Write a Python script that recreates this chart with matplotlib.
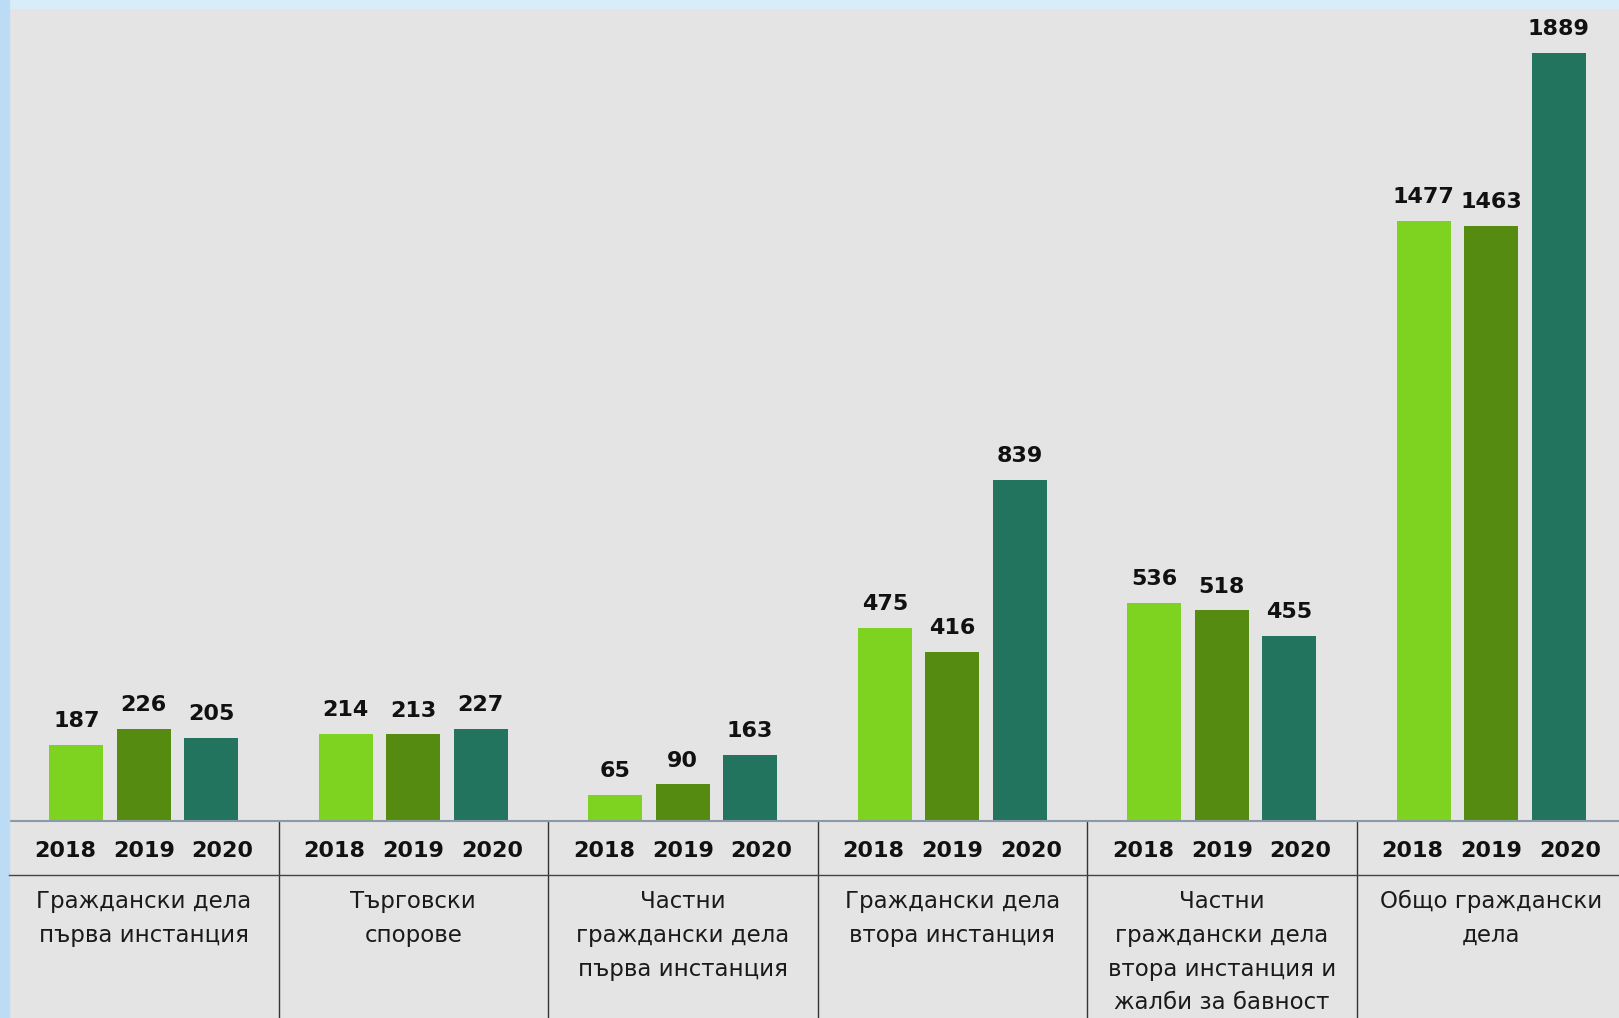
import numpy as np
import matplotlib
matplotlib.use("Agg")
import matplotlib.pyplot as plt
from matplotlib.patches import Rectangle
from matplotlib.transforms import blended_transform_factory

categories = [
    "Граждански дела\nпърва инстанция",
    "Търговски\nспорове",
    "Частни\nграждански дела\nпърва инстанция",
    "Граждански дела\nвтора инстанция",
    "Частни\nграждански дела\nвтора инстанция и\nжалби за бавност",
    "Общо граждански\nдела",
]
years = ["2018", "2019", "2020"]
v2018 = [187, 214, 65, 475, 536, 1477]
v2019 = [226, 213, 90, 416, 518, 1463]
v2020 = [205, 227, 163, 839, 455, 1889]
colors = ["#7ed321", "#568b12", "#23745e"]

W, H = 1619, 1018
fig = plt.figure(figsize=(W / 100, H / 100), dpi=100)
fig.patch.set_facecolor("#e4e4e4")

# light blue frame on top and left
fig.patches.append(Rectangle((0, 1 - 8 / H), 1, 8 / H, transform=fig.transFigure,
                             color="#d9ecf9", zorder=0))
fig.patches.append(Rectangle((0, 0), 9 / W, 1, transform=fig.transFigure,
                             color="#bcdcf5", zorder=0))

base_px = 821
ax = fig.add_axes([9 / W, (H - base_px) / H, 1617 / W, base_px / H])
ax.set_facecolor("none")
ax.set_xlim(0, 24)
ax.set_ylim(0, 1889 * base_px / 768)
for side in ["top", "left", "right"]:
    ax.spines[side].set_visible(False)
ax.spines["bottom"].set_color("#8a9aa8")
ax.spines["bottom"].set_linewidth(1.5)
ax.set_xticks([])
ax.set_yticks([])

n = len(categories)
series = [v2018, v2019, v2020]
for k, vals in enumerate(series):
    x = np.arange(n) * 4 + 1 + k
    bars = ax.bar(x, vals, width=0.8, color=colors[k], zorder=2)
    for b, v in zip(bars, vals):
        ax.annotate(str(v), (b.get_x() + b.get_width() / 2, v),
                    xytext=(0, 10), textcoords="offset points",
                    ha="center", va="bottom", fontsize=16,
                    fontweight="bold", color="#111111")

trans = blended_transform_factory(ax.transData, fig.transFigure)
y_year = 1 - 851 / H
y_hline = 1 - 875 / H
y_cat = 1 - 890 / H
for g in range(n):
    c = 4 * g + 2
    for k, yr in enumerate(years):
        ax.text(c + (k - 1) * 1.17, y_year, yr, transform=trans,
                ha="center", va="center", fontsize=16, fontweight="bold",
                color="#111111")
    ax.text(c, y_cat, categories[g], transform=trans, ha="center", va="top",
            fontsize=16.5, color="#1a1a1a", linespacing=1.6)
    if g > 0:
        ax.plot([4 * g, 4 * g], [0, 1 - base_px / H], transform=trans,
                color="#333333", lw=1.0, clip_on=False)

fig.add_artist(plt.Line2D([9 / W, 1], [y_hline, y_hline],
                          transform=fig.transFigure, color="#444444", lw=1.0))

fig.savefig("out.png", dpi=100, facecolor=fig.get_facecolor())
